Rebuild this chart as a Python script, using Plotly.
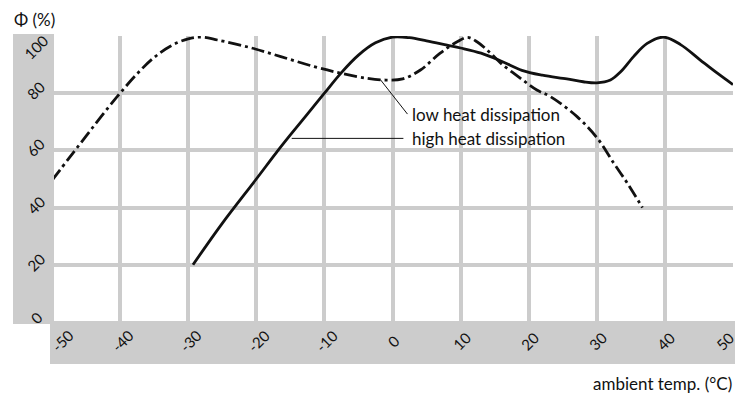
import plotly.graph_objects as go

# Relative output Φ (%) versus ambient temperature (°C)
high_temp = [-29.3, -25, -20, -17, -15, -12.5, -10, -7.5, -5, -2.5, 0, 2.5, 5, 8, 10,
             13, 16, 19, 22, 25.6, 28, 30, 32, 33.5, 35.4, 37.4, 39.8, 42.3, 45.2, 47.7, 50]
high_phi = [20, 34.5, 50, 59.4, 65.4, 72.7, 80, 87.2, 93.3, 97.6, 99.6, 99.4, 98.3, 96.8, 95.8,
            94, 91.2, 88, 86.3, 85, 84, 83.6, 84.6, 87.5, 92.8, 97.4, 99.6, 97, 91.6, 87, 83]

low_temp = [-50, -47.5, -45, -42.5, -40, -37.5, -35, -32.5, -30, -28, -25.7, -21,
            -16.4, -11.5, -7.6, -3.7, -1, 1.5, 4.1, 7, 9.5, 11, 12.4, 14.4, 15.9, 18.8,
            21.2, 23.2, 27.1, 30.1, 32.5, 34.5, 36.7]
low_phi = [49.5, 57.3, 65, 72.7, 80, 86.8, 92.5, 96.6, 99, 99.6, 98.6, 96,
           92.8, 89.3, 87, 85.2, 84.6, 85, 88.1, 94, 98, 99.5, 98, 94, 90.5, 85.2,
           81.1, 78.8, 71.8, 64.2, 55.5, 48.5, 40]

x_ticks = [-50, -40, -30, -20, -10, 0, 10, 20, 30, 40, 50]
y_ticks = [0, 20, 40, 60, 80, 100]

series_names = ["high heat dissipation", "low heat dissipation"]
x_title = "ambient temp. (°C)"
y_title = "Φ (%)"

FONT = "Lato, 'Open Sans', sans-serif"
GRID = "#cccccc"
INK = "#111111"

W, H = 745, 396
L, R, T, B = 52, 12, 36, 74
PW, PH = W - L - R, H - T - B


def px_x(p):
    return (p - L) / PW


def px_y(p):
    return (H - B - p) / PH


fig = go.Figure()

fig.add_trace(go.Scatter(
    x=high_temp, y=high_phi, mode="lines", name=series_names[0],
    line=dict(color=INK, width=2.8, shape="spline"),
))
fig.add_trace(go.Scatter(
    x=low_temp, y=low_phi, mode="lines", name=series_names[1],
    line=dict(color=INK, width=2.8, shape="spline", dash="13px,4px,3px,4px"),
))

shapes = [
    # grey tick bands along the left and bottom edges
    dict(type="rect", xref="paper", yref="paper", layer="above",
         x0=px_x(13), x1=px_x(54), y0=px_y(324), y1=px_y(34),
         fillcolor=GRID, line=dict(width=0)),
    dict(type="rect", xref="paper", yref="paper", layer="above",
         x0=px_x(50), x1=px_x(735), y0=px_y(321), y1=px_y(364),
         fillcolor=GRID, line=dict(width=0)),
    # leader lines to the curve labels
    dict(type="line", xref="x", yref="y", x0=-1.8, y0=84.8, x1=2.2, y1=72.7,
         line=dict(color=INK, width=1)),
    dict(type="line", xref="x", yref="y", x0=-14.8, y0=64.2, x1=1.6, y1=64.2,
         line=dict(color=INK, width=1)),
]

LABEL_FONT = dict(family=FONT, size=17, color=INK)
TICK_FONT = dict(family=FONT, size=15, color=INK)

annotations = [
    dict(text=series_names[1], x=2.64, y=72.5, xref="x", yref="y",
         xanchor="left", yanchor="middle", showarrow=False, font=LABEL_FONT),
    dict(text=series_names[0], x=2.64, y=64.0, xref="x", yref="y",
         xanchor="left", yanchor="middle", showarrow=False, font=LABEL_FONT),
    dict(text=y_title, x=px_x(12), y=px_y(19), xref="paper", yref="paper",
         xanchor="left", yanchor="middle", showarrow=False,
         font=dict(family=FONT, size=17, color=INK)),
    dict(text=x_title, x=px_x(734), y=px_y(383), xref="paper", yref="paper",
         xanchor="right", yanchor="middle", showarrow=False,
         font=dict(family=FONT, size=17, color=INK)),
]

# rotated tick labels inside the grey bands
for i, v in enumerate(x_ticks):
    if i == 0:
        shift = 10
    elif i == len(x_ticks) - 1:
        shift = -8
    else:
        shift = 2 if v < 0 else 1
    annotations.append(dict(
        text=str(v), x=v, y=px_y(341), xref="x", yref="paper", xshift=shift,
        xanchor="center", yanchor="middle", textangle=-45, showarrow=False,
        font=TICK_FONT))

for v in y_ticks:
    if v == max(y_ticks):
        shift = -11
    elif v == min(y_ticks):
        shift = 4
    else:
        shift = 3
    annotations.append(dict(
        text=str(v), x=px_x(36), y=v, xref="paper", yref="y", yshift=shift,
        xanchor="center", yanchor="middle", textangle=-45, showarrow=False,
        font=TICK_FONT))

fig.update_layout(
    width=W, height=H,
    margin=dict(l=L, r=R, t=T, b=B),
    paper_bgcolor="white", plot_bgcolor="white",
    showlegend=False,
    shapes=shapes,
    annotations=annotations,
    xaxis=dict(range=[-50, 50], tickvals=x_ticks, showticklabels=False,
               showgrid=True, gridcolor=GRID, gridwidth=4,
               zeroline=False, showline=False, ticks=""),
    yaxis=dict(range=[0, 100], tickvals=y_ticks, showticklabels=False,
               showgrid=True, gridcolor=GRID, gridwidth=4,
               zeroline=False, showline=False, ticks=""),
)

fig.write_html("out.html")
